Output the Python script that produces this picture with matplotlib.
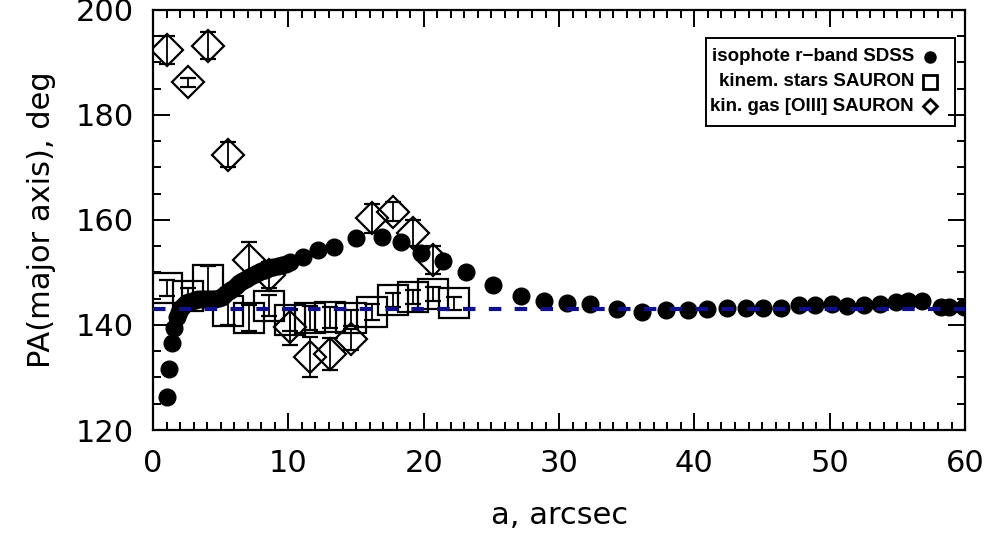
import numpy as np
import matplotlib
matplotlib.use("Agg")
import matplotlib.pyplot as plt
from matplotlib.patches import Rectangle

# isophote PA, r-band SDSS
iso_a = [1.05, 1.18, 1.38, 1.55, 1.75, 1.95, 2.15, 2.35, 2.6, 2.85, 3.1, 3.35,
         3.6, 3.85, 4.1, 4.35, 4.6, 4.85, 5.1, 5.35, 5.6, 5.85, 6.1, 6.35, 6.6,
         6.85, 7.1, 7.4, 7.7, 8.0, 8.3, 8.6, 8.9, 9.2, 9.5, 9.8, 10.1, 11.1,
         12.2, 13.4, 15.0, 16.9, 18.3, 19.8, 21.4, 23.1, 25.1, 27.2, 28.9, 30.6,
         32.3, 34.3, 36.1, 37.9, 39.5, 40.9, 42.4, 43.8, 45.1, 46.4, 47.7, 48.9,
         50.2, 51.3, 52.5, 53.7, 54.9, 55.8, 56.8, 58.2, 58.8, 59.9]
iso_pa = [126.3, 131.6, 136.5, 139.4, 141.5, 142.5, 143.4, 143.9, 144.3, 144.6,
          144.8, 144.9, 145.0, 145.0, 144.9, 144.9, 144.9, 145.1, 145.4, 145.9,
          146.4, 146.9, 147.4, 147.9, 148.4, 148.8, 149.2, 149.6, 149.9, 150.2,
          150.5, 150.8, 151.1, 151.3, 151.5, 151.7, 151.9, 153.0, 154.3, 154.9,
          156.6, 156.8, 155.8, 153.7, 152.2, 150.1, 147.6, 145.5, 144.6, 144.2,
          144.0, 143.0, 142.5, 142.9, 142.9, 143.0, 143.2, 143.2, 143.2, 143.2,
          143.8, 143.8, 144.0, 143.6, 143.8, 144.0, 144.4, 144.6, 144.6, 143.4,
          143.4, 143.4]

# stellar kinematics, SAURON
star_a = [1.03, 2.56, 4.09, 5.57, 7.1, 8.6, 10.1, 11.6, 13.1, 14.6, 16.2,
          17.7, 19.2, 20.7, 22.2]
star_pa = [147.0, 145.5, 148.6, 142.7, 141.3, 143.7, 140.9, 141.3, 141.5,
           141.3, 142.5, 144.8, 145.3, 145.9, 144.1]
star_err = [1.5, 1.5, 2.6, 2.8, 2.5, 2.0, 2.0, 2.3, 2.0, 1.5, 1.5, 1.3, 1.3,
            1.3, 1.3]

# ionised gas [OIII], SAURON
gas_a = [1.03, 2.56, 4.09, 5.57, 7.1, 8.6, 10.1, 11.6, 13.1, 14.6, 16.2,
         17.7, 19.2, 20.7]
gas_pa = [192.4, 186.2, 193.2, 172.4, 152.3, 149.5, 139.6, 133.9, 134.5,
          137.3, 160.3, 161.6, 157.5, 152.4]
gas_err = [2.7, 0.8, 2.5, 2.4, 3.5, 2.5, 3.5, 3.8, 3.0, 2.0, 2.7, 1.8, 2.5,
           2.6]

pa_mean = 143.0

plt.rcParams['font.family'] = 'DejaVu Sans'
fig = plt.figure(figsize=(9.97, 5.40), dpi=100)
ax = fig.add_axes([0.1535, 0.2037, 0.8145, 0.778])

ax.errorbar(star_a, star_pa, yerr=star_err, fmt='s', ms=21, mfc='none',
            mec='black', mew=1.6, ecolor='black', elinewidth=1.3,
            capsize=6, capthick=1.3, zorder=2)
ax.errorbar(gas_a, gas_pa, yerr=gas_err, fmt='D', ms=16.5, mfc='none',
            mec='black', mew=1.6, ecolor='black', elinewidth=1.3,
            capsize=6, capthick=1.3, zorder=3)
ax.plot(iso_a, iso_pa, 'o', color='black', ms=12, zorder=4)
ax.axhline(pa_mean, color='#10108a', lw=3, ls=(0, (3, 3.2)), zorder=5)

ax.set_xlim(0, 60)
ax.set_ylim(120, 200)
ax.set_xticks(np.arange(0, 61, 10))
ax.set_xticks(np.arange(0, 61, 1), minor=True)
ax.set_yticks(np.arange(120, 201, 20))
ax.set_yticks(np.arange(120, 201, 5), minor=True)
ax.tick_params(which='both', direction='in', top=True, right=True,
               width=1.4, labelsize=22, pad=14)
ax.tick_params(which='major', length=12)
ax.tick_params(which='minor', length=6)
for s in ax.spines.values():
    s.set_linewidth(1.6)

ax.set_xlabel('a, arcsec', fontsize=22, labelpad=16)
ax.set_ylabel('PA(major axis), deg', fontsize=22, labelpad=14)

# legend box drawn by hand: text right-aligned, symbol on the right
ax.add_patch(Rectangle((0.681, 0.724), 0.307, 0.209, transform=ax.transAxes,
                       fill=False, ec='black', lw=1.4, zorder=6))
rows = [0.888, 0.829, 0.771]
labels = ['isophote r\u2212band SDSS', 'kinem. stars SAURON',
          'kin. gas [OIII] SAURON']
marks = [dict(marker='o', ms=8, mfc='black', mec='black'),
         dict(marker='s', ms=10, mfc='none', mec='black', mew=2),
         dict(marker='D', ms=7.5, mfc='none', mec='black', mew=2)]
for yy, lab, mk in zip(rows, labels, marks):
    ax.text(0.937, yy, lab, transform=ax.transAxes, ha='right', va='center',
            fontsize=13.5, fontweight='bold',
            family=['Liberation Sans', 'DejaVu Sans'], zorder=7)
    ax.plot([0.957], [yy], transform=ax.transAxes, ls='none', zorder=7, **mk)

fig.savefig('out.png', dpi=100)
